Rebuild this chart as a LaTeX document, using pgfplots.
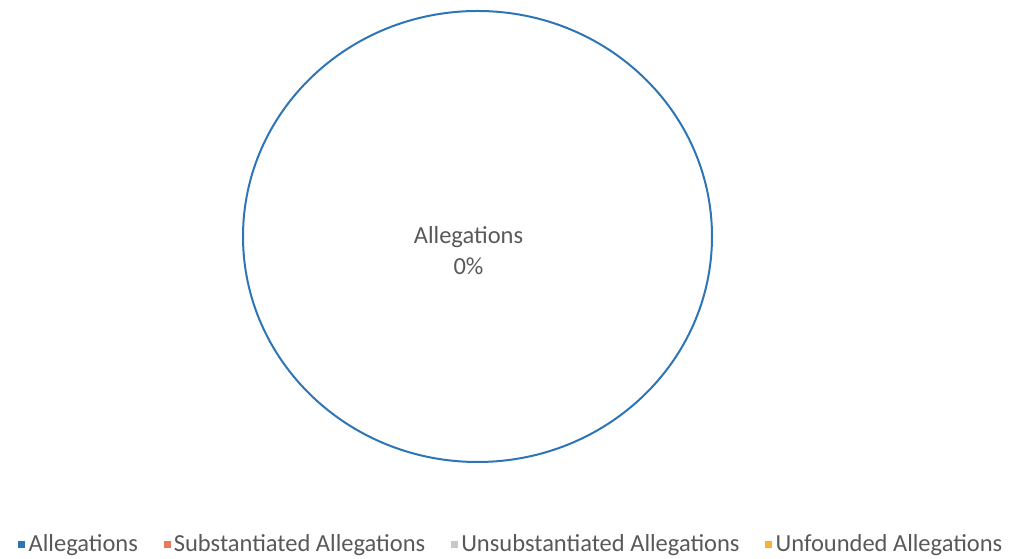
\documentclass[border=0pt]{standalone}
\usepackage{fontspec}
\setmainfont{Carlito}
\usepackage{pgfplots}
\pgfplotsset{compat=1.18}
\definecolor{pieblue}{HTML}{2E75B6}
\definecolor{c2}{HTML}{E8795A}
\definecolor{c3}{HTML}{C8C8C8}
\definecolor{c4}{HTML}{F5B335}
\definecolor{txt}{HTML}{595959}
\begin{document}
\begin{tikzpicture}
\begin{axis}[
  scale only axis, width=1013pt, height=559pt,
  xmin=0, xmax=1013, ymin=0, ymax=559,
  axis lines=none, clip=false,
  legend columns=4,
  legend style={at={(axis cs:511,15)}, anchor=center, draw=none, fill=none,
    font=\fontsize{24.5}{28}\selectfont\color{txt},
    /tikz/every even column/.append style={column sep=23pt},
    inner sep=0pt},
  legend cell align=left,
]
\addlegendimage{legend image code/.code={\fill[pieblue] (0pt,-3pt) rectangle (6pt,3pt); \path[draw=none] (-1pt,0) -- (8pt,0);}}
\addlegendentry{Allegations}
\addlegendimage{legend image code/.code={\fill[c2] (0pt,-3pt) rectangle (6pt,3pt); \path[draw=none] (-1pt,0) -- (8pt,0);}}
\addlegendentry{Substantiated Allegations}
\addlegendimage{legend image code/.code={\fill[c3] (0pt,-3pt) rectangle (6pt,3pt); \path[draw=none] (-1pt,0) -- (8pt,0);}}
\addlegendentry{Unsubstantiated Allegations}
\addlegendimage{legend image code/.code={\fill[c4] (0pt,-3pt) rectangle (6pt,3pt); \path[draw=none] (-1pt,0) -- (8pt,0);}}
\addlegendentry{Unfounded Allegations}
\draw[pieblue, line width=2pt, fill=white] (axis cs:477.5,322.5) ellipse [x radius=234.5pt, y radius=225.5pt];
\node[align=center, text=txt, font=\fontsize{24.5}{31}\selectfont] at (axis cs:468.5,308) {Allegations\\0\%};
\end{axis}
\pgfresetboundingbox
\path (current axis.south west) rectangle (current axis.north east);
\end{tikzpicture}
\end{document}
